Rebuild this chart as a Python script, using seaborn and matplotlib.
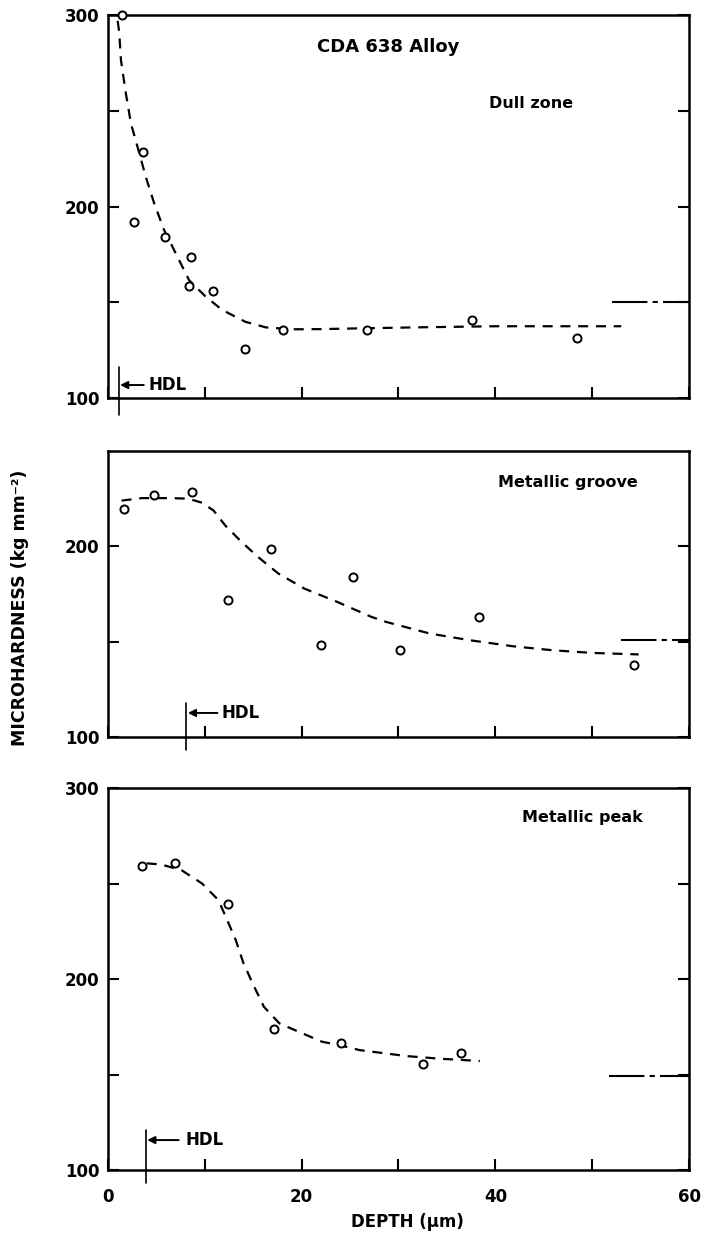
import matplotlib
matplotlib.use("Agg")
import matplotlib.pyplot as plt
import seaborn as sns
import pandas as pd

# measured points (depth in um, microhardness in kg mm^-2)
dull_depth = [1.4, 2.7, 3.6, 5.9, 8.4, 8.6, 10.8, 14.2, 18.1, 26.7, 37.6, 48.4]
dull_hard = [300, 191.7, 228.6, 183.9, 158.6, 173.8, 156.0, 125.6, 135.5, 135.7, 140.9, 131.3]

groove_depth = [1.65, 4.8, 8.7, 12.4, 16.8, 22.0, 25.3, 30.2, 38.3, 54.3]
groove_hard = [219.7, 226.7, 228.4, 171.7, 198.8, 148.2, 183.9, 145.5, 162.7, 137.7]

peak_depth = [3.5, 6.9, 12.4, 17.1, 24.1, 32.5, 36.5]
peak_hard = [259.2, 260.9, 239.1, 173.7, 166.7, 155.5, 161.1]

# hand-drawn trend curves
dull_curve_x = [1.0, 1.16, 1.34, 1.85, 2.37, 3.05, 3.9, 4.77, 5.8, 7.17, 8.37, 10.1,
                11.8, 14.2, 16.3, 19.0, 22.0, 27.0, 33.0, 40.0, 47.0, 53.0]
dull_curve_y = [297, 291, 276.5, 259, 243.4, 231.2, 215.6, 201.7, 187.7, 173.8, 161.6, 152.9,
                146, 139.8, 136.9, 135.9, 136.0, 136.5, 137.0, 137.5, 137.5, 137.5]

groove_curve_x = [1.4, 3.5, 6.6, 8.3, 9.7, 10.9, 12.1, 13.8, 15.5, 17.6, 20.3, 23.7,
                  27.2, 28.7, 33.2, 37.3, 41.8, 45.9, 50.0, 54.8]
groove_curve_y = [224, 225.3, 225.3, 225, 222.9, 218.8, 211, 202.3, 194.4, 185.7, 177.8, 170.8,
                  163, 160.4, 154.3, 150.8, 147.6, 145.5, 144.1, 143.3]

peak_curve_x = [4.0, 5.5, 7.6, 9.7, 11.4, 12.3, 13.2, 14.0, 15.1, 16.1, 17.7, 19.7,
                22.1, 23.9, 26.0, 30.8, 34.3, 38.4]
peak_curve_y = [260.6, 260, 257, 250.1, 241.4, 231, 220.4, 208.2, 196, 185.5, 176.8, 172.4,
                167.2, 165.4, 162.8, 159.7, 158.3, 157.1]

# bulk hardness marks at the right edge
bulk_start = [52.0, 53.0, 51.7]
bulk_level = [150, 151, 149]

# hardened depth layer (HDL)
hdl_depth = [1.1, 8.1, 3.9]
hdl_top = [116, 118, 121]
hdl_bottom = [91, 93, 93]
hdl_arrow_y = [106.8, 112.6, 115.7]
hdl_arrow_tail = [3.7, 11.3, 7.3]
hdl_text_x = [4.2, 11.75, 8.0]

panel_names = ["Dull zone", "Metallic groove", "Metallic peak"]
panel_name_pos = [(43.7, 254), (47.5, 233.5), (49.0, 284.8)]
ylims = [(100, 300), (100, 250), (100, 300)]

sns.set_theme(style="white", rc={"text.color": "black", "axes.labelcolor": "black",
                                 "xtick.color": "black", "ytick.color": "black"})
plt.rcParams["font.family"] = ["DejaVu Sans"]
plt.rcParams["font.weight"] = "bold"

fig = plt.figure(figsize=(7.03, 12.47), dpi=100)
ax_top = fig.add_axes([0.1536, 0.6808, 0.8265, 0.3071])
ax_mid = fig.add_axes([0.1536, 0.4090, 0.8265, 0.2293])
ax_bot = fig.add_axes([0.1536, 0.0617, 0.8265, 0.3063])
axes = [ax_top, ax_mid, ax_bot]

points = [(dull_depth, dull_hard), (groove_depth, groove_hard), (peak_depth, peak_hard)]
curves = [(dull_curve_x, dull_curve_y), (groove_curve_x, groove_curve_y),
          (peak_curve_x, peak_curve_y)]

for i, ax in enumerate(axes):
    cx, cy = curves[i]
    sns.lineplot(x=cx, y=cy, ax=ax, color="black", lw=1.6, sort=False)
    ax.lines[-1].set_linestyle((0, (4.5, 3.5)))
    px, py = points[i]
    df = pd.DataFrame({"depth": px, "hardness": py})
    sns.scatterplot(data=df, x="depth", y="hardness", ax=ax, marker="o", s=34,
                    facecolor="white", edgecolor="black", linewidth=1.4, zorder=3,
                    clip_on=False)

    # bulk level
    ax.plot([bulk_start[i], 60], [bulk_level[i], bulk_level[i]], color="black",
            lw=1.5, linestyle=(0, (17, 2.5, 2.5, 2.5)))

    # HDL marker
    ax.plot([hdl_depth[i], hdl_depth[i]], [hdl_top[i], hdl_bottom[i]], color="black",
            lw=1.2, clip_on=False)
    ax.annotate("", xy=(hdl_depth[i] + 0.15, hdl_arrow_y[i]),
                xytext=(hdl_arrow_tail[i], hdl_arrow_y[i]),
                arrowprops=dict(arrowstyle="-|>", color="black", lw=1.4,
                                mutation_scale=11, shrinkA=0, shrinkB=0))
    ax.text(hdl_text_x[i], hdl_arrow_y[i], "HDL", ha="left", va="center",
            fontsize=12, fontweight="bold", color="black")

    nx, ny = panel_name_pos[i]
    ax.text(nx, ny, panel_names[i], ha="center", va="center", fontsize=11.5,
            fontweight="bold", color="black")

    ax.set_xlim(0, 60)
    ax.set_ylim(*ylims[i])
    lo, hi = ylims[i]
    ax.set_yticks([v for v in [100, 200, 300] if v <= hi])
    ax.set_yticks([v for v in [150, 250] if v < hi], minor=True)
    ax.set_xticks([0, 20, 40, 60])
    ax.set_xticks([10, 30, 50], minor=True)
    ax.tick_params(axis="both", which="both", direction="in", length=8, width=1.5,
                   colors="black", labelsize=12)
    ax.tick_params(axis="y", which="both", left=True, right=True, pad=6)
    ax.tick_params(axis="x", which="both", bottom=True, top=False, pad=13)
    for lab in ax.get_yticklabels() + ax.get_xticklabels():
        lab.set_fontweight("bold")
    for sp in ax.spines.values():
        sp.set_visible(True)
        sp.set_color("black")
        sp.set_linewidth(1.8)
    ax.set_xlabel("")
    ax.set_ylabel("")
    if i < 2:
        ax.tick_params(axis="x", labelbottom=False)

ax_top.text(28.9, 283.3, "CDA 638 Alloy", ha="center", va="center", fontsize=13,
            fontweight="bold", color="black")

fig.text(0.028, 0.5124, "MICROHARDNESS (kg mm\u207b\u00b2)", rotation=90, ha="center",
         va="center", fontsize=12.5, fontweight="bold", color="black")
fig.text(0.580, 0.020, "DEPTH (\u03bcm)", ha="center", va="center", fontsize=12,
         fontweight="bold", color="black")

fig.savefig("out.png", dpi=100, facecolor="white")
